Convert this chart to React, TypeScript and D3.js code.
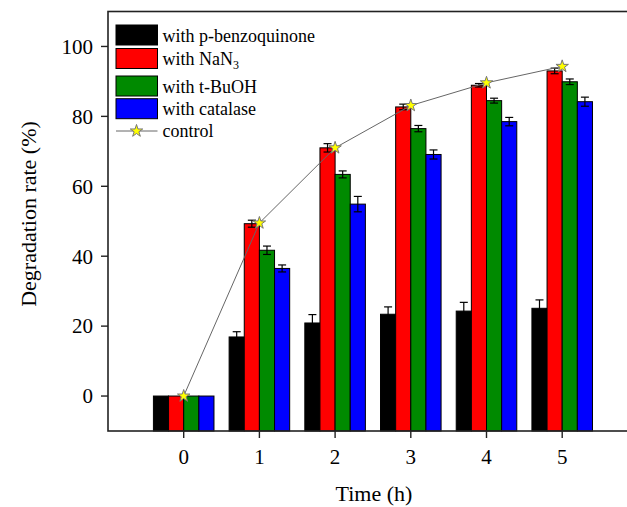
import React from "react";
import * as d3 from "d3";

const times = [0, 1, 2, 3, 4, 5];
const pbqValues = [0, 16.9, 20.9, 23.4, 24.3, 25.1];
const pbqErrors = [0, 1.5, 2.4, 2.1, 2.5, 2.4];
const nan3Values = [0, 49.3, 71.0, 82.7, 88.9, 93.0];
const nan3Errors = [0, 1.0, 1.2, 0.8, 0.5, 0.8];
const tbuohValues = [0, 41.7, 63.4, 76.5, 84.5, 89.9];
const tbuohErrors = [0, 1.2, 1.0, 0.9, 0.7, 0.8];
const catalaseValues = [0, 36.5, 54.9, 69.1, 78.5, 84.2];
const catalaseErrors = [0, 1.0, 2.2, 1.3, 1.2, 1.3];
const controlValues = [0, 49.5, 71.0, 83.1, 89.6, 94.3];
const yTicks = [0, 20, 40, 60, 80, 100];

const seriesNames = ["with p-benzoquinone", "with NaN3", "with t-BuOH", "with catalase"];
const seriesColors = ["#000000", "#ff0000", "#008a00", "#0000ff"];

const series = [
  { name: seriesNames[0], color: seriesColors[0], values: pbqValues, errors: pbqErrors },
  { name: seriesNames[1], color: seriesColors[1], values: nan3Values, errors: nan3Errors },
  { name: seriesNames[2], color: seriesColors[2], values: tbuohValues, errors: tbuohErrors },
  { name: seriesNames[3], color: seriesColors[3], values: catalaseValues, errors: catalaseErrors },
];

const W = 627;
const H = 507;
const left = 108;
const top = 11.5;
const bottom = 431;
const unit = 75.7;

export default function App() {
  const x = d3.scaleLinear().domain([-1, 6]).range([left, left + 7 * unit]);
  const y = d3.scaleLinear().domain([-10, 110]).range([bottom, top]);
  const barW = 0.2;
  const offsets = [-0.4, -0.2, 0, 0.2];
  const font = "'Liberation Serif', 'Times New Roman', serif";
  const star = d3.symbol().type(d3.symbolStar).size(48)();
  const line = d3
    .line<number>()
    .x((_, i) => x(times[i]))
    .y((d) => y(d));

  const legendY = [25, 48.5, 76, 98.7];

  return (
    <svg
      width={W}
      height={H}
      style={{ position: "absolute", left: 0, top: 0, background: "#fff", fontFamily: font }}
    >
      {/* bars */}
      {series.map((s, si) =>
        s.values.map((v, i) => {
          const x0 = x(times[i] + offsets[si]);
          const x1 = x(times[i] + offsets[si] + barW);
          return (
            <rect
              key={`b${si}-${i}`}
              x={x0}
              y={y(v)}
              width={x1 - x0}
              height={y(-10) - y(v)}
              fill={s.color}
              stroke="#000"
              strokeWidth={1}
            />
          );
        })
      )}
      {/* error bars */}
      {series.map((s, si) =>
        s.values.map((v, i) => {
          const e = s.errors[i];
          if (!e) return null;
          const cx = x(times[i] + offsets[si] + barW / 2);
          return (
            <g key={`e${si}-${i}`} stroke="#000" strokeWidth={1.2}>
              <line x1={cx} x2={cx} y1={y(v - e)} y2={y(v + e)} />
              <line x1={cx - 4} x2={cx + 4} y1={y(v + e)} y2={y(v + e)} />
              <line x1={cx - 4} x2={cx + 4} y1={y(v - e)} y2={y(v - e)} />
            </g>
          );
        })
      )}
      {/* control line */}
      <path d={line(controlValues) || ""} fill="none" stroke="#666" strokeWidth={1} />
      {controlValues.map((v, i) => (
        <path
          key={`s${i}`}
          d={star || ""}
          transform={`translate(${x(times[i])},${y(v)})`}
          fill="#ffff00"
          stroke="#777"
          strokeWidth={1}
        />
      ))}
      {/* frame */}
      <rect
        x={left}
        y={top}
        width={W + 20 - left}
        height={bottom - top}
        fill="none"
        stroke="#222"
        strokeWidth={1.6}
      />
      {/* y ticks */}
      {yTicks.map((t) => (
        <g key={`yt${t}`}>
          <line x1={left - 7} x2={left} y1={y(t)} y2={y(t)} stroke="#222" strokeWidth={1.4} />
          <text x={left - 15} y={y(t)} dy="0.35em" textAnchor="end" fontSize={21} fill="#000">
            {t}
          </text>
        </g>
      ))}
      {/* x ticks */}
      {times.map((t) => (
        <g key={`xt${t}`}>
          <line x1={x(t)} x2={x(t)} y1={bottom} y2={bottom + 7} stroke="#222" strokeWidth={1.4} />
          <text x={x(t)} y={464} textAnchor="middle" fontSize={21} fill="#000">
            {t}
          </text>
        </g>
      ))}
      {/* axis titles */}
      <text x={374} y={501} textAnchor="middle" fontSize={22} fill="#000">
        Time (h)
      </text>
      <text
        transform={`translate(36,214) rotate(-90)`}
        textAnchor="middle"
        fontSize={22}
        fill="#000"
      >
        Degradation rate (%)
      </text>
      {/* legend */}
      {series.map((s, si) => (
        <g key={`l${si}`}>
          <rect x={116} y={legendY[si]} width={41.5} height={20} fill={s.color} stroke="#000" strokeWidth={1} />
          <text x={162.5} y={legendY[si] + 16.5} fontSize={18} fill="#000">
            {si === 1 ? (
              <>
                with NaN
                <tspan fontSize={12} dy={4}>3</tspan>
              </>
            ) : (
              s.name
            )}
          </text>
        </g>
      ))}
      <line x1={116} x2={157.5} y1={131} y2={131} stroke="#666" strokeWidth={1} />
      <path d={star || ""} transform="translate(136.5,131)" fill="#ffff00" stroke="#777" strokeWidth={1} />
      <text x={162.5} y={137} fontSize={18} fill="#000">
        control
      </text>
    </svg>
  );
}
